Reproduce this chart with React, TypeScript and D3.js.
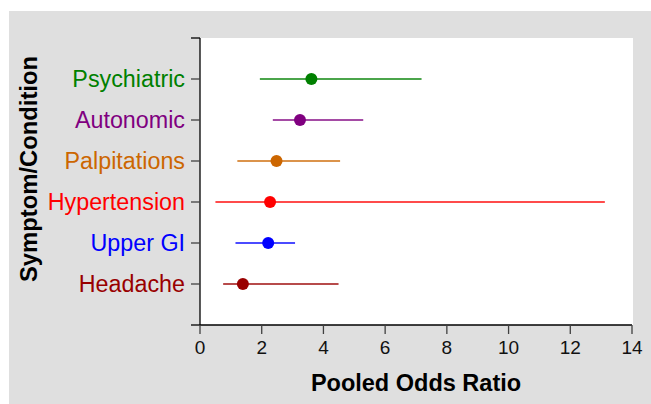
import * as d3 from "d3";

// categories listed bottom to top
const categories = ["Headache", "Upper GI", "Hypertension", "Palpitations", "Autonomic", "Psychiatric"];
const oddsRatio = [1.39, 2.21, 2.27, 2.48, 3.24, 3.61];
const lowerCI = [0.75, 1.15, 0.5, 1.21, 2.36, 1.94];
const upperCI = [4.49, 3.08, 13.12, 4.54, 5.29, 7.18];
const colors = ["#990000", "#0000ff", "#ff0000", "#cc6600", "#800080", "#008000"];
const xTicks = [0, 2, 4, 6, 8, 10, 12, 14];

export default function App() {
  const width = 651;
  const height = 404;
  const marginLeft = 200;
  const marginRight = 19;
  const marginTop = 38;
  const marginBottom = 79;
  const font = "'Liberation Sans', Arial, sans-serif";

  const xScale = d3.scaleLinear().domain([0, 14]).range([marginLeft, width - marginRight]);
  const yScale = d3.scaleLinear().domain([0, categories.length + 1]).range([height - marginBottom, marginTop]);

  const yTickValues = d3.range(0, categories.length + 2);

  return (
    <svg width={width} height={height} style={{ position: "absolute", left: 0, top: 0 }}>
      {/* background */}
      <rect x={9} y={11} width={width - 9} height={height - 11} fill="#dfdfdf" />
      <rect
        x={marginLeft}
        y={marginTop}
        width={xScale(14) - marginLeft + 1}
        height={yScale(0) - marginTop}
        fill="white"
      />

      {/* error bars and points */}
      {categories.map((c, i) => (
        <g key={c}>
          <line
            x1={xScale(lowerCI[i])}
            x2={xScale(upperCI[i])}
            y1={yScale(i + 1)}
            y2={yScale(i + 1)}
            stroke={colors[i]}
            strokeWidth={2}
            opacity={0.7}
          />
          <circle cx={xScale(oddsRatio[i])} cy={yScale(i + 1)} r={6} fill={colors[i]} />
        </g>
      ))}

      {/* Y axis */}
      <line x1={marginLeft} x2={marginLeft} y1={marginTop} y2={yScale(0)} stroke="black" strokeWidth={1.3} />
      {yTickValues.map((t) => (
        <line
          key={t}
          x1={marginLeft - 9}
          x2={marginLeft}
          y1={yScale(t)}
          y2={yScale(t)}
          stroke={t === 0 || t === categories.length + 1 ? "black" : "#404040"}
          strokeWidth={1.3}
        />
      ))}
      {categories.map((c, i) => (
        <text
          key={c}
          x={marginLeft - 15}
          y={yScale(i + 1)}
          dy="0.36em"
          textAnchor="end"
          fontFamily={font}
          fontSize={23.3}
          fill={colors[i]}
        >
          {c}
        </text>
      ))}

      {/* X axis */}
      <line x1={marginLeft} x2={xScale(14)} y1={yScale(0)} y2={yScale(0)} stroke="black" strokeWidth={1.3} />
      {xTicks.map((t) => (
        <g key={t} transform={`translate(${xScale(t)},${yScale(0)})`}>
          <line y2={9} stroke="#404040" strokeWidth={1.3} />
          <text y={29} textAnchor="middle" fontFamily={font} fontSize={19} fill="#111">
            {t}
          </text>
        </g>
      ))}

      {/* axis titles */}
      <text
        x={(marginLeft + xScale(14)) / 2}
        y={391}
        textAnchor="middle"
        fontFamily={font}
        fontSize={23.5}
        fontWeight="bold"
      >
        Pooled Odds Ratio
      </text>
      <text
        transform={`translate(37,169) rotate(-90)`}
        textAnchor="middle"
        fontFamily={font}
        fontSize={23.8}
        fontWeight="bold"
      >
        Symptom/Condition
      </text>
    </svg>
  );
}
